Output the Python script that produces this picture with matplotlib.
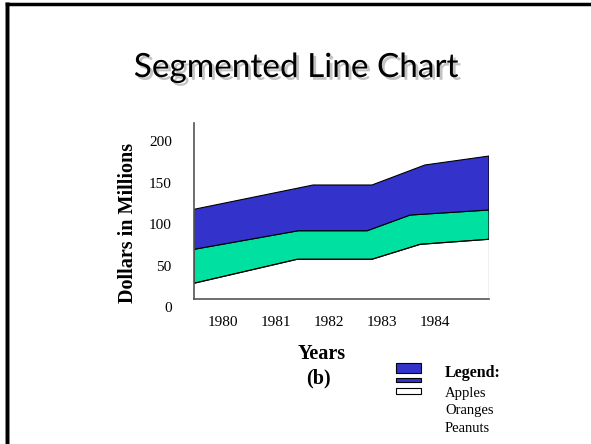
import matplotlib
matplotlib.use("Agg")
import matplotlib.pyplot as plt
import matplotlib.patheffects as pe
from matplotlib.patches import Rectangle
from matplotlib.lines import Line2D

# boundaries of the stacked areas (cumulative, dollars in millions)
peanuts_x = [1979.45, 1981.40, 1982.81, 1983.72, 1985.02]
peanuts_top = [28.6, 57.5, 57.5, 75.5, 81.6]
oranges_x = [1979.45, 1981.42, 1982.72, 1983.53, 1985.02]
oranges_top = [69.5, 91.9, 91.9, 110.8, 116.9]
apples_x = [1979.45, 1981.70, 1982.81, 1983.81, 1985.02]
apples_top = [117.7, 147.0, 147.0, 171.1, 181.9]

years = [1980, 1981, 1982, 1983, 1984]
y_ticks = [0, 50, 100, 150, 200]
legend_names = ['Apples', 'Oranges', 'Peanuts']

W, H = 591, 444
fig = plt.figure(figsize=(W / 100, H / 100), dpi=100)


def px(x, y):
    # pixel position (from top-left) -> figure fraction
    return x / W, 1 - y / H


serif = 'Liberation Serif'
blue = '#3333cc'
green = '#00e0a0'
base = 9.6  # where the horizontal axis line sits

ax = fig.add_axes([194 / W, 1 - 307 / H, (489 - 194) / W, (307 - 123) / H])
ax.set_xlim(1979.45, 1985.02)
ax.set_ylim(0, 221.7)

# peanuts (white)
ax.fill(peanuts_x + peanuts_x[::-1], peanuts_top + [base] * len(peanuts_x),
        facecolor='white', edgecolor='none')
ax.plot(peanuts_x, peanuts_top, color='black', lw=0.8)
# oranges
ax.fill(oranges_x + peanuts_x[::-1], oranges_top + peanuts_top[::-1],
        facecolor=green, edgecolor='black', lw=0.8)
# apples
ax.fill(apples_x + oranges_x[::-1], apples_top + oranges_top[::-1],
        facecolor=blue, edgecolor='black', lw=0.8)
ax.plot([peanuts_x[-1], peanuts_x[-1]], [base, apples_top[-1]], color='black', lw=0.8)

for s in ['top', 'right']:
    ax.spines[s].set_visible(False)
ax.spines['bottom'].set_position(('data', base))
ax.spines['left'].set_bounds(base, 221.7)
ax.spines['left'].set_color('#555555')
ax.spines['bottom'].set_color('#555555')
ax.spines['left'].set_linewidth(1.2)
ax.spines['bottom'].set_linewidth(1.2)

ax.set_xticks(years)
ax.set_xticklabels([str(y) for y in years], fontfamily=serif, fontsize=11)
ax.set_yticks(y_ticks)
ax.set_yticklabels([str(v) for v in y_ticks], fontfamily=serif, fontsize=11)
ax.tick_params(axis='x', length=0, pad=12)
ax.tick_params(axis='y', length=0, pad=16)

# title with shadow
fig.text(*px(296, 77), 'Segmented Line Chart', ha='center', va='baseline',
         fontsize=24, family=['Lato', 'DejaVu Sans'],
         path_effects=[pe.withSimplePatchShadow(offset=(2, -2), shadow_rgbFace='#aaaaaa', alpha=0.7)])

fig.text(*px(128, 223), 'Dollars in Millions', rotation=90, ha='center', va='center',
         fontsize=14.5, fontweight='bold', family=serif)
fig.text(*px(322, 354), 'Years', ha='center', va='center',
         fontsize=14.5, fontweight='bold', family=serif)
fig.text(*px(318, 378), '(b)', ha='center', va='center',
         fontsize=14.5, fontweight='bold', family=serif)

# legend drawn by hand
for (x0, y0, x1, y1), fc in [((396, 363, 421, 373), blue),
                             ((396, 378, 421, 382), blue),
                             ((396, 388, 421, 394), 'white')]:
    fx, fy = px(x0, y1)
    fig.add_artist(Rectangle((fx, fy), (x1 - x0) / W, (y1 - y0) / H, transform=fig.transFigure,
                             facecolor=fc, edgecolor='black', lw=0.8))
fig.text(*px(445, 373), 'Legend:', ha='left', va='center',
         fontsize=11.5, fontweight='bold', family=serif)
for i, name in enumerate(legend_names):
    fig.text(*px(445, 393 + 17.5 * i), name, ha='left', va='center', fontsize=10.5, family=serif)

# slide frame (top and left)
fig.add_artist(Line2D([px(7, 0)[0], px(7, 0)[0]], [px(0, 4)[1], 0], color='#aaaaaa', lw=3.5,
                      transform=fig.transFigure))
fig.add_artist(Line2D([px(7, 0)[0], 1], [px(0, 4)[1], px(0, 4)[1]], color='black', lw=2.5,
                      transform=fig.transFigure))
fig.add_artist(Line2D([px(7, 0)[0], px(7, 0)[0]], [px(0, 4)[1], 0], color='black', lw=2.5,
                      transform=fig.transFigure))

fig.savefig('out.png', dpi=100)
